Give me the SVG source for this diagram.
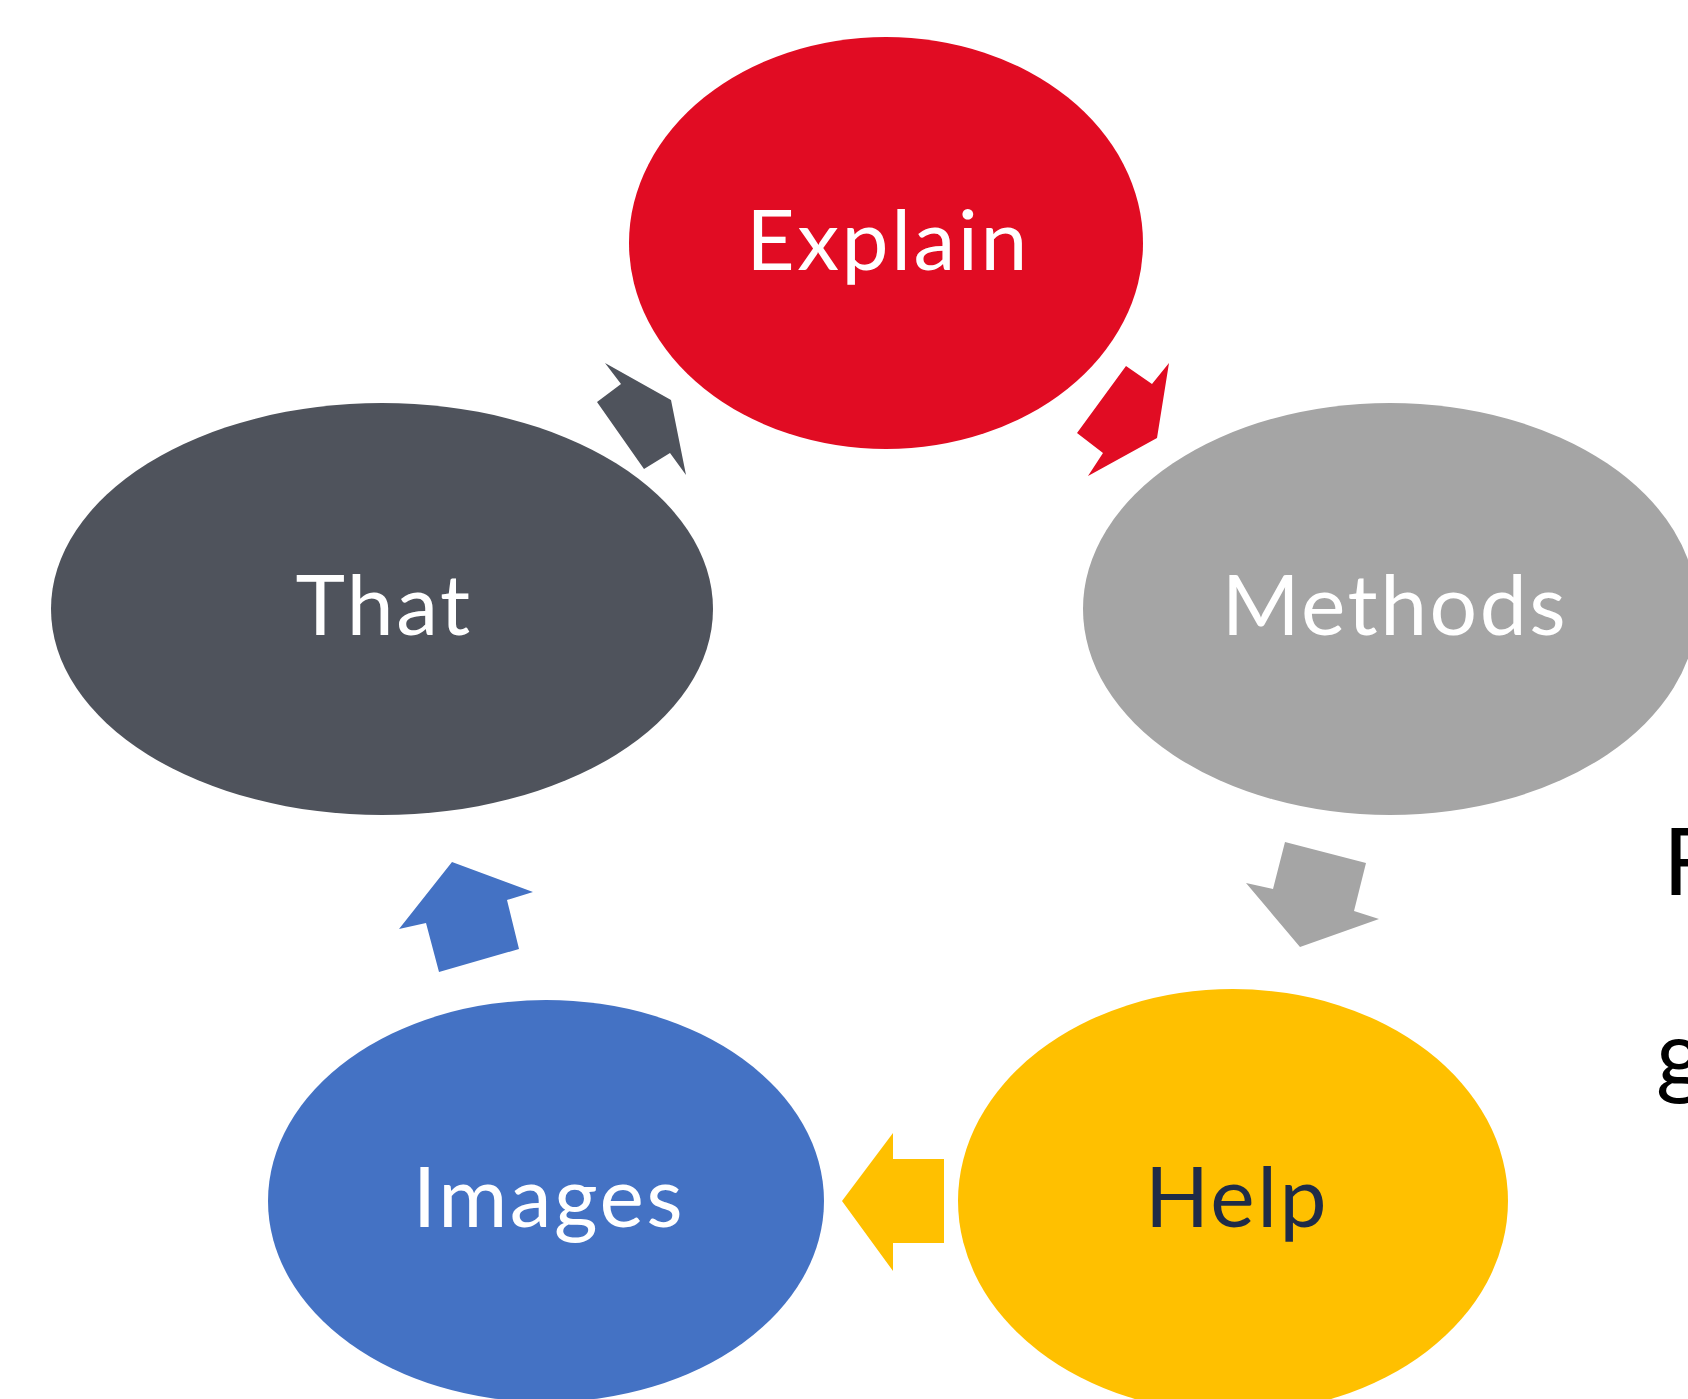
<svg xmlns="http://www.w3.org/2000/svg" width="1688" height="1399" viewBox="0 0 1688 1399">
<style>
.lbl{font-family:Lato,"Open Sans","Liberation Sans",sans-serif;font-size:84px;letter-spacing:2.5px;text-anchor:middle}
.w{fill:#ffffff}
.side{font-family:Lato,"Open Sans","Liberation Sans",sans-serif;font-size:93px;fill:#000000}
</style>
<rect width="1688" height="1399" fill="#ffffff"/>
<g id="node-explain">
<ellipse cx="886" cy="243" rx="257" ry="206" fill="#E10C23"/>
<text class="lbl w" x="888" y="270">Explain</text>
</g>
<g id="node-methods">
<ellipse cx="1390" cy="609" rx="307" ry="206" fill="#A5A5A5"/>
<text class="lbl w" x="1395" y="635">Methods</text>
</g>
<g id="node-help">
<ellipse cx="1233" cy="1201" rx="275" ry="212" fill="#FFC000"/>
<text class="lbl" fill="#1F2B47" x="1237" y="1227">Help</text>
</g>
<g id="node-images">
<ellipse cx="546" cy="1201" rx="278" ry="201" fill="#4472C4"/>
<text class="lbl w" x="549" y="1227">Images</text>
</g>
<g id="node-that">
<ellipse cx="382" cy="609" rx="331" ry="206" fill="#4F535C"/>
<text class="lbl w" x="384" y="635">That</text>
</g>
<g id="connectors">
<polygon fill="#E10C23" points="1126,366 1152,384 1169,363 1157,438 1088,476 1103,453 1077,433"/>
<polygon fill="#A5A5A5" points="1285,842 1366,863 1354,911 1379,919 1300,947 1246,883 1273,889"/>
<polygon fill="#FFC000" points="893,1133 893,1159 944,1159 944,1243 893,1243 893,1271 842,1201"/>
<polygon fill="#4472C4" points="452,862 533,892 507,900 519,949 439,972 426,923 399,929"/>
<polygon fill="#4F535C" points="605,363 671,400 686,475 670,453 644,469 597,402 621,384"/>
</g>
<text class="side" x="1663" y="895">F</text>
<text class="side" x="1656" y="1087">g</text>
</svg>
